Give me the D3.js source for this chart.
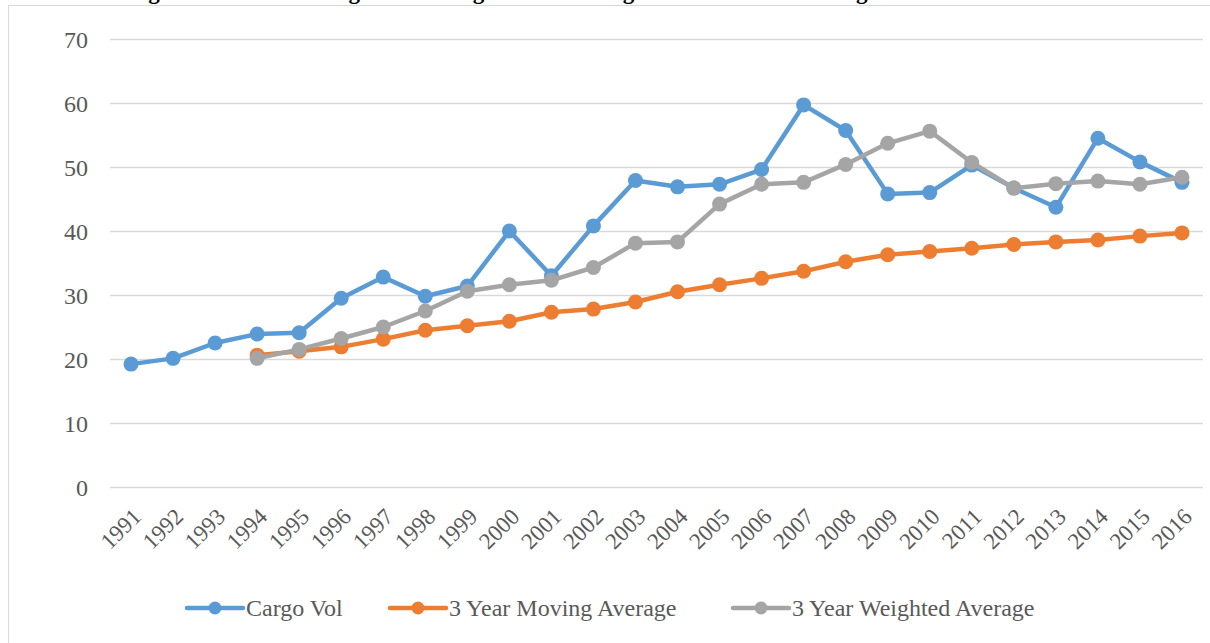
<!DOCTYPE html>
<html>
<head>
<meta charset="utf-8">
<script src="https://cdn.jsdelivr.net/npm/d3@7"></script>
<style>
  html, body { margin: 0; padding: 0; background: #fff; }
  svg { display: block; font-family: "Liberation Serif", "DejaVu Serif", serif; }
</style>
</head>
<body>
<svg id="canvas" width="1210" height="643"></svg>
<script>
const years = ["1991","1992","1993","1994","1995","1996","1997","1998","1999","2000",
  "2001","2002","2003","2004","2005","2006","2007","2008","2009","2010",
  "2011","2012","2013","2014","2015","2016"];

const cargoVol = [19.2, 20.1, 22.5, 23.9, 24.1, 29.5, 32.8, 29.8, 31.4, 40.0,
  33.0, 40.8, 47.9, 46.9, 47.3, 49.6, 59.7, 55.7, 45.8, 46.0,
  50.3, 46.7, 43.7, 54.5, 50.8, 47.6];

const movingAvg = [null, null, null, 20.6, 21.2, 21.9, 23.1, 24.5, 25.2, 25.9,
  27.3, 27.8, 28.9, 30.5, 31.6, 32.6, 33.7, 35.2, 36.3, 36.8,
  37.3, 37.9, 38.3, 38.6, 39.2, 39.7];

const weightedAvg = [null, null, null, 20.1, 21.5, 23.2, 25.0, 27.5, 30.6, 31.6,
  32.3, 34.3, 38.1, 38.3, 44.2, 47.3, 47.6, 50.4, 53.7, 55.6,
  50.7, 46.7, 47.4, 47.8, 47.3, 48.4];

const yTicks = [0, 10, 20, 30, 40, 50, 60, 70];

const series = [
  { nombre: "Cargo Vol", valores: cargoVol, color: "#5B9BD5" },
  { nombre: "3 Year Moving Average", valores: movingAvg, color: "#ED7D31" },
  { nombre: "3 Year Weighted Average", valores: weightedAvg, color: "#A5A5A5" }
];

const svg = d3.select("#canvas");
const texto = "#595959";

// Marco del gráfico
svg.append("rect")
  .attr("x", 8.5).attr("y", 5.5)
  .attr("width", 1230).attr("height", 680)
  .attr("fill", "none")
  .attr("stroke", "#D9D9D9");

// Título (cortado en la parte superior, solo asoman los descendentes)
svg.append("text")
  .attr("x", 122).attr("y", -1)
  .attr("textLength", 995)
  .attr("lengthAdjust", "spacing")
  .attr("font-weight", "bold")
  .attr("font-size", 23)
  .attr("fill", "#000")
  .text("Figure 4.2: Moving and Weighted Average Forecast of Cargo Volume 1991-2016");

const x = d3.scalePoint().domain(years).range([110, 1203]).padding(0.5);
const y = d3.scaleLinear().domain([0, 70]).range([487, 39]);

// Líneas de cuadrícula
svg.append("g")
  .selectAll("line")
  .data(yTicks)
  .enter()
  .append("line")
  .attr("x1", 110).attr("x2", 1203)
  .attr("y1", d => y(d) + 0.5).attr("y2", d => y(d) + 0.5)
  .attr("stroke", "#D9D9D9")
  .attr("stroke-width", 1.5);

// Eje Y
const ejeY = svg.append("g")
  .attr("transform", "translate(110,0)")
  .call(d3.axisLeft(y).tickValues(yTicks).tickSize(0).tickPadding(22));
ejeY.select(".domain").remove();
ejeY.selectAll("text")
  .attr("font-family", "Liberation Serif, serif")
  .attr("font-size", 24)
  .attr("fill", texto)
  .attr("dy", "0.34em");

// Eje X
const ejeX = svg.append("g")
  .attr("transform", "translate(0,487)")
  .call(d3.axisBottom(x).tickSize(0).tickPadding(0));
ejeX.select(".domain").remove();
ejeX.selectAll("text")
  .attr("font-family", "Liberation Serif, serif")
  .attr("font-size", 23)
  .attr("fill", texto)
  .attr("text-anchor", "end")
  .attr("dy", 0)
  .attr("transform", "translate(11,31) rotate(-45)");

// Series
const linea = d3.line()
  .defined(d => d != null)
  .x((d, i) => x(years[i]))
  .y(d => y(d));

series.forEach(s => {
  const g = svg.append("g");
  g.append("path")
    .attr("d", linea(s.valores))
    .attr("fill", "none")
    .attr("stroke", s.color)
    .attr("stroke-width", 4.5)
    .attr("stroke-linejoin", "round")
    .attr("stroke-linecap", "round");
  g.selectAll("circle")
    .data(s.valores.map((v, i) => ({ v, i })).filter(d => d.v != null))
    .enter()
    .append("circle")
    .attr("cx", d => x(years[d.i]))
    .attr("cy", d => y(d.v))
    .attr("r", 7.5)
    .attr("fill", s.color);
});

// Leyenda
const leyendaX = [187, 390, 733];
const leyenda = svg.append("g");
series.forEach((s, i) => {
  const lx = leyendaX[i];
  const ly = 608;
  leyenda.append("line")
    .attr("x1", lx).attr("x2", lx + 56)
    .attr("y1", ly).attr("y2", ly)
    .attr("stroke", s.color)
    .attr("stroke-width", 4.5)
    .attr("stroke-linecap", "round");
  leyenda.append("circle")
    .attr("cx", lx + 28).attr("cy", ly)
    .attr("r", 6.5)
    .attr("fill", s.color);
  leyenda.append("text")
    .attr("x", lx + 59).attr("y", ly)
    .attr("dy", "0.34em")
    .attr("font-size", 24)
    .attr("fill", texto)
    .text(s.nombre);
});
</script>
</body>
</html>
